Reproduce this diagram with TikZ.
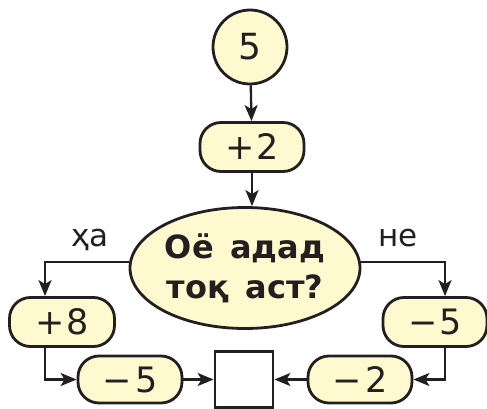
\documentclass[tikz,border=0pt]{standalone}
\usepackage{fontspec}
\setmainfont{DejaVu Sans}
\usepackage{xcolor}
\usetikzlibrary{shapes.geometric,arrows.meta}
\definecolor{boxfill}{RGB}{255,249,208}
\definecolor{ink}{RGB}{35,31,32}
\tikzset{
  flow/.style={draw=ink,line width=2.3pt,-{Stealth[length=16pt,width=13pt,inset=4pt]}},
  opbox/.style={draw=ink,line width=2.8pt,fill=boxfill,rounded corners=21pt,
    minimum width=104pt,minimum height=49pt,inner sep=0pt,text=ink,
    font=\fontsize{35}{36}\selectfont},
  lbl/.style={text=ink,font=\fontsize{31}{36}\selectfont}
}

\begin{document}
\begin{tikzpicture}[x=1pt,y=-1pt]
  \useasboundingbox (0,0) rectangle (487,409);
  \node[circle,draw=ink,line width=2.8pt,fill=boxfill,minimum size=74pt,inner sep=0pt,text=ink,
    font=\fontsize{36}{40}\selectfont] (start) at (250,47) {5};
  \node[opbox] (add2) at (252,147) {+\kern1pt2};
  \node[ellipse,draw=ink,line width=2.8pt,fill=boxfill,minimum width=230pt,minimum height=121pt,
    inner sep=0pt,align=center,text=ink,font=\fontsize{32}{40}\bfseries\selectfont] (test) at (245,268)
    {Оё\,\ адад\\тоқ\,\ аст?};
  \node[opbox,minimum width=105pt] (add8) at (62,322) {+\kern1pt8};
  \node[opbox] (subA) at (435,322) {−\kern2pt5};
  \node[opbox,minimum height=47pt] (subB) at (130,379.5) {−\kern4pt5};
  \node[opbox,minimum height=47pt] (subC) at (360,379.5) {−\kern4pt2};
  \node[draw=ink,line width=2.8pt,fill=white,minimum width=58pt,minimum height=56pt] (res) at (244,379.5) {};
  \coordinate (lc) at (45,262); \coordinate (rc) at (445,262);
  \draw[flow] (start) -- (add2);
  \draw[flow] (add2) -- (add2 |- test.north);
  \draw[flow] (test.west |- lc) -- (lc) -- (add8.north -| lc);
  \draw[flow] (test.east |- rc) -- (rc) -- (subA.north -| rc);
  \draw[flow] (add8.south -| lc) |- (subB.west);
  \draw[flow] (subA.south -| rc) |- (subC.east);
  \draw[flow] (subB) -- (res);
  \draw[flow] (subC) -- (res);
  \node[lbl] (yes) at (90,240) {ҳа};
  \node[lbl] (no) at (398,238) {не};
\end{tikzpicture}
\end{document}
